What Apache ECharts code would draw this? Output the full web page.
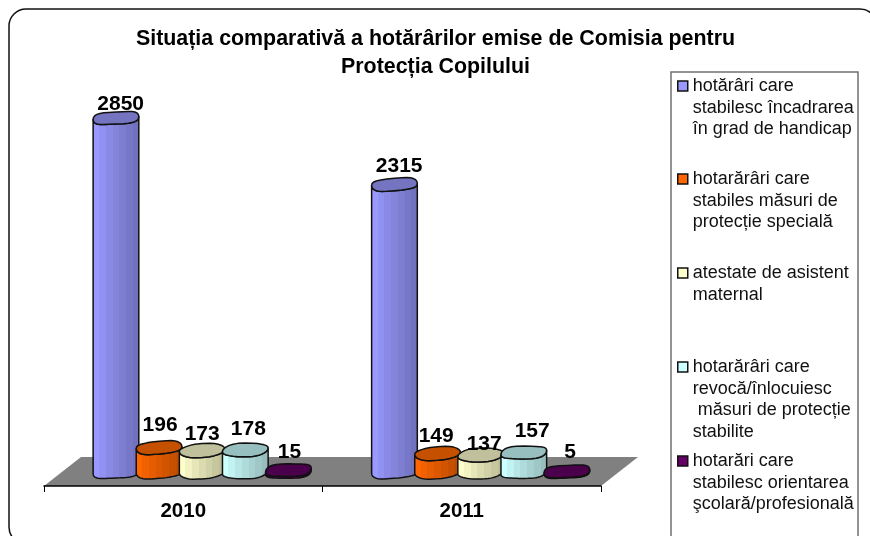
<!DOCTYPE html>
<html><head><meta charset="utf-8">
<style>html,body{margin:0;padding:0;background:#fff}#c{width:870px;height:536px}</style>
<script src="https://cdn.jsdelivr.net/npm/echarts@6/dist/echarts.min.js"></script>
</head><body><div id="c"></div>
<script>
const categories = ['2010', '2011'];
const incadrare = [2850, 2315];
const protectie = [196, 149];
const atestate = [173, 137];
const revoca = [178, 157];
const orientare = [15, 5];
const seriesNames = [
  'hotărâri care\nstabilesc încadrarea\nîn grad de handicap',
  'hotarărâri care\nstabiles măsuri de\nprotecție specială',
  'atestate de asistent\nmaternal',
  'hotarărâri care\nrevocă/înlocuiesc\n măsuri de protecție\nstabilite',
  'hotarări care\nstabilesc orientarea\nşcolară/profesională'
];
const seriesValues = [incadrare, protectie, atestate, revoca, orientare];
const titleText = 'Situația comparativă a hotărârilor emise de Comisia pentru\nProtecția Copilului';

// styles
const FONT = '"Liberation Sans", Arial, sans-serif';
const palette = [
  {c:[153,153,255], top:'#7474c0', swatch:'#9999ff'},
  {c:[255,102,0],  top:'#c45000', swatch:'#ff6600'},
  {c:[255,255,204],top:'#c0c09c', swatch:'#ffffcc'},
  {c:[204,255,255],top:'#98bfc0', swatch:'#ccffff'},
  {c:[102,0,102],  top:'#4a004a', swatch:'#660066'}
];
const legendCentres = [86, 179, 273, 367, 461];
const LH = 21.6;
// label nudges [dx, dy] per series and category
const nudges = [
  [[4.7,-14],[4.7,-18]],
  [[1,-22],[-1.4,-17]],
  [[0,-16],[3.5,-11]],
  [[3,-21],[8.4,-21]],
  [[1,-18],[3.3,-19]]
];

function stepped(c){
  const f=[1,1,.95,.95,.9,.9,.86,.86,.82,.82,.78,.78,.74,.74];
  const n=f.length, out=[];
  for(let i=0;i<n;i+=2){
    const col=`rgb(${c.map(v=>Math.round(v*f[i])).join(',')})`;
    out.push({offset:i/n,color:col},{offset:(i+2)/n,color:col});
  }
  return out;
}
function rim(cx,cy,a,b,from,to,phase){
  const pts=[], N=28;
  for(let i=0;i<=N;i++){
    const t=from+(to-from)*i/N, ct=Math.cos(t), st=Math.sin(t);
    const x=cx+a*Math.sign(ct)*Math.pow(Math.abs(ct),.75);
    const y=cy+b*Math.sign(st)*Math.pow(Math.abs(st),.85)-1.5*ct+.5*Math.sin(3*t+phase);
    pts.push([x,y]);
  }
  return pts;
}
function barItem(si){
  return function(params,api){
    const ci=api.value(0), v=api.value(1);
    const band=api.size([1,0])[0];
    const base=api.coord([ci,0]), top=api.coord([ci,v]);
    const pitch=band*.1548;
    const cx=base[0]+(si-2)*pitch+band*.068;
    const a=band*.082, b=6.5;
    const p=si*1.3+ci;
    const lower=rim(cx,base[1],a,b,0,Math.PI,p);
    const upperRim=rim(cx,top[1],a,b,Math.PI,0,p);
    const bodyPts=lower.concat(upperRim);
    const stroke={stroke:'#111',lineWidth:1.5,lineJoin:'round'};
    const pal=palette[si];
    const n=nudges[si][ci];
    return {type:'group',children:[
      {type:'polygon',shape:{points:bodyPts},style:Object.assign({fill:new echarts.graphic.LinearGradient(0,0,1,0,stepped(pal.c))},stroke)},
      {type:'polygon',shape:{points:rim(cx,top[1],a,b,0,Math.PI*2,p)},style:Object.assign({fill:pal.top},stroke)},
      {type:'text',z2:100,style:{text:String(v),x:cx+n[0],y:top[1]+n[1],align:'center',verticalAlign:'middle',
        font:'bold 21px '+FONT,fill:'#000'}}
    ]};
  };
}
const floorSeries={
  type:'custom',name:'floor',silent:true,clip:false,z:1,data:[[0,0]],legendHoverLink:false,
  renderItem(params,api){
    const g=params.coordSys;
    const front=g.y+g.height+14, back=front-29, s=37;
    return {type:'polygon',shape:{points:[[g.x,front],[g.x+s,back],[g.x+g.width+s,back],[g.x+g.width,front]]},
      style:{fill:'#808080',stroke:'none'}};
  }
};
const barSeries=seriesNames.map((name,si)=>({
  type:'custom',name,clip:false,z:2+si,
  itemStyle:{color:palette[si].swatch},
  data:seriesValues[si].map((v,i)=>[i,v]),
  renderItem:barItem(si),
  encode:{x:0,y:1}
}));
const legends=seriesNames.map((name,si)=>{
  const n=name.split('\n').length;
  return {
    data:[name],selectedMode:false,left:677,top:legendCentres[si]-(2*n-1)*LH/2,padding:0,
    itemWidth:10,itemHeight:10,icon:'rect',orient:'vertical',
    itemStyle:{borderColor:'#111',borderWidth:1.5},
    formatter:(s)=>'\n'.repeat(s.split('\n').length-1)+s,
    textStyle:{fontFamily:FONT,fontSize:18,lineHeight:LH,color:'#111'}
  };
});
const chart=echarts.init(document.getElementById('c'),null,{renderer:'canvas'});
chart.setOption({
  animation:false,
  backgroundColor:'#fff',
  title:{text:titleText,left:430.5,top:20,textAlign:'center',
    textStyle:{fontFamily:FONT,fontWeight:'bold',fontSize:21.4,lineHeight:28,color:'#000'}},
  legend:legends,
  tooltip:{show:false},
  grid:{left:44,width:557,top:99.4,height:372.6,containLabel:false},
  xAxis:{type:'category',data:categories,offset:14,z:8,
    axisLine:{onZero:false,lineStyle:{color:'#000',width:1.5}},
    axisTick:{show:true,length:6,alignWithLabel:false,lineStyle:{color:'#000',width:1}},
    axisLabel:{fontFamily:FONT,fontWeight:'bold',fontSize:20.5,color:'#000',margin:15}},
  yAxis:{type:'value',min:0,max:3000,show:false,splitLine:{show:false}},
  graphic:[
    {type:'rect',z:-10,silent:true,shape:{x:9,y:9,width:868,height:535,r:17},style:{fill:'#fff',stroke:'#111',lineWidth:1.5}},
    {type:'rect',z:-9,silent:true,shape:{x:671,y:72,width:187,height:480},style:{fill:'#fff',stroke:'#707070',lineWidth:1.5}}
  ],
  series:[floorSeries].concat(barSeries)
});
</script></body></html>
